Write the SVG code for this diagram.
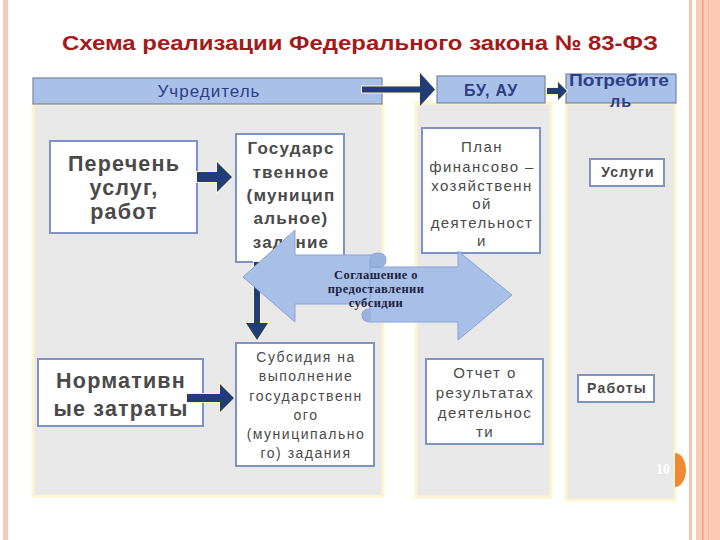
<svg xmlns="http://www.w3.org/2000/svg" width="720" height="540" viewBox="0 0 720 540">
<style>
  .sans { font-family: "Liberation Sans", Arial, sans-serif; }
  .panel { fill: #e8e8e8; stroke: #fdf5cf; stroke-width: 3; }
  .bar { fill: #a9c1e9; stroke: #78869f; stroke-width: 1.2; }
  .box { fill: #ffffff; stroke: #7f93c2; stroke-width: 2; }
  .bt { font-family: "Liberation Sans", Arial, sans-serif; fill: #4a4a4a; text-anchor: middle; }
  .big { font-size: 21.5px; font-weight: bold; letter-spacing: 1.2px; }
  .mid { font-size: 17px; font-weight: bold; letter-spacing: 1.2px; }
  .sm { font-size: 15px; letter-spacing: 1.4px; }
  .xs { font-size: 14px; letter-spacing: 1.5px; }
  .lab { font-size: 14px; font-weight: bold; letter-spacing: 1.2px; }
  .hd { font-family: "Liberation Sans", Arial, sans-serif; fill: #2e3d85; text-anchor: middle; }
  .arr { fill: #203d77; stroke: #fff3c2; stroke-width: 2; paint-order: stroke; }
  .blue { fill: #a8bfe8; stroke: #89a3d6; stroke-width: 1; }
  .sc { font-family: "Liberation Serif", "Times New Roman", serif; font-size: 12.5px; font-weight: bold; letter-spacing: 0.4px; fill: #1d2240; text-anchor: middle; }
</style>
<rect width="720" height="540" fill="#ffffff"/>
<!-- slide borders -->
<rect x="3" y="0" width="5" height="540" fill="#f8c8b6"/>
<rect x="689" y="0" width="3" height="540" fill="#f4c4b0"/>
<rect x="696" y="0" width="24" height="540" fill="#fccab4"/>
<rect x="702" y="0" width="1.5" height="540" fill="#eea27f"/>
<rect x="708" y="0" width="1" height="540" fill="#f7bca4"/>

<g id="title">
  <text x="360" y="50" class="sans" font-size="21" font-weight="bold" fill="#a41a1a" text-anchor="middle" textLength="596" lengthAdjust="spacingAndGlyphs">Схема реализации Федерального закона № 83-ФЗ</text>
</g>

<g id="panels">
  <rect class="panel" x="33" y="104" width="350" height="392"/>
  <rect class="panel" x="416" y="103" width="135" height="394"/>
  <rect class="panel" x="566" y="103" width="109" height="397"/>
</g>

<g id="uchreditel">
  <rect class="bar" x="33" y="78" width="349" height="26"/>
  <text class="hd" x="209" y="97" font-size="17" letter-spacing="1">Учредитель</text>
</g>
<g id="bu-au">
  <rect class="bar" x="437" y="76" width="108" height="27"/>
  <text class="hd" x="491" y="96" font-size="16" font-weight="bold" letter-spacing="0.8">БУ, АУ</text>
</g>
<g id="potrebitel">
  <rect class="bar" x="566" y="74" width="110" height="29"/>
  <text class="hd" x="619" y="86" font-size="16" font-weight="bold" textLength="100" lengthAdjust="spacingAndGlyphs">Потребите</text>
  <text class="hd" x="621" y="107" font-size="16" font-weight="bold" letter-spacing="1">ль</text>
</g>

<g id="perechen">
  <rect class="box" x="50" y="141" width="147" height="92"/>
  <text class="bt big" x="124" y="171">Перечень</text>
  <text class="bt big" x="124" y="195">услуг,</text>
  <text class="bt big" x="124" y="219">работ</text>
</g>

<g id="zadanie">
  <rect class="box" x="236" y="134" width="108" height="128"/>
  <text class="bt mid" x="291" y="154">Государс</text>
  <text class="bt mid" x="291" y="178">твенное</text>
  <text class="bt mid" x="291" y="201">(муницип</text>
  <text class="bt mid" x="291" y="224">альное)</text>
  <text class="bt mid" x="291" y="248">задание</text>
</g>

<g id="plan">
  <rect class="box" x="422" y="128" width="118" height="125"/>
  <text class="bt sm" x="482" y="152">План</text>
  <text class="bt sm" x="482" y="172">финансово –</text>
  <text class="bt sm" x="482" y="191">хозяйственн</text>
  <text class="bt sm" x="482" y="209">ой</text>
  <text class="bt sm" x="482" y="228">деятельност</text>
  <text class="bt sm" x="482" y="246">и</text>
</g>

<g id="uslugi">
  <rect class="box" x="590" y="159" width="74" height="27"/>
  <text class="bt lab" x="628" y="177">Услуги</text>
</g>

<g id="normativ">
  <rect class="box" x="38" y="359" width="165" height="67"/>
  <text class="bt big" x="121" y="388">Нормативн</text>
  <text class="bt big" x="121" y="416">ые затраты</text>
</g>

<g id="subsidiya">
  <rect class="box" x="236" y="343" width="138" height="123"/>
  <text class="bt xs" x="306" y="362">Субсидия на</text>
  <text class="bt xs" x="306" y="381">выполнение</text>
  <text class="bt xs" x="306" y="401">государственн</text>
  <text class="bt xs" x="306" y="420">ого</text>
  <text class="bt xs" x="306" y="439">(муниципально</text>
  <text class="bt xs" x="306" y="458">го) задания</text>
</g>

<g id="otchet">
  <rect class="box" x="426" y="359" width="117" height="85"/>
  <text class="bt sm" x="485" y="378">Отчет о</text>
  <text class="bt sm" x="485" y="398">результатах</text>
  <text class="bt sm" x="485" y="418">деятельнос</text>
  <text class="bt sm" x="485" y="437">ти</text>
</g>

<g id="raboty">
  <rect class="box" x="578" y="375" width="76" height="27"/>
  <text class="bt lab" x="617" y="393">Работы</text>
</g>

<g id="connectors">
  <path class="arr" d="M362,86.5 H420 V73 L435,89.5 L420,106 V92.5 H362 Z"/>
  <path class="arr" d="M547,88 H558 V82 L567,91 L558,100 V94 H547 Z"/>
  <path class="arr" d="M197,172 H217 V162 L232,177 L217,192 V182 H197 Z"/>
  <path class="arr" d="M187,394 H220 V384 L234,398 L220,412 V402 H187 Z"/>
  <path class="arr" d="M254,262 H260 V323 H268 L257,340 L246,323 H254 Z"/>
</g>

<g id="soglashenie">
  <path class="blue" d="M243,277 L295,230 L295,255 L380,255 L380,304 L295,304 L295,322 Z"/>
  <path class="blue" d="M370,267 L458,267 L458,251 L512,295 L458,340 L458,322 L370,322 Z"/>
  <path d="M370,267 L370,261 Q370,253 378,253 Q386,253 386,260 Q386,267 378,267 Z" fill="#98b1df" stroke="#89a3d6" stroke-width="1"/>
  <path d="M370,322 Q362,322 362,315 Q362,309 370,309" fill="#98b1df" stroke="#89a3d6" stroke-width="1"/>
  <text class="sc" x="376" y="279">Соглашение о</text>
  <text class="sc" x="376" y="293">предоставлении</text>
  <text class="sc" x="376" y="307">субсидии</text>
</g>

<g id="slide-number">
  <path d="M675,453 A11,17 0 0 1 675,487 Z" fill="#f08a30"/>
  <text x="663" y="474" font-family="'Liberation Serif', 'Times New Roman', serif" font-size="14" font-weight="bold" fill="#ffffff" text-anchor="middle">10</text>
</g>
</svg>
